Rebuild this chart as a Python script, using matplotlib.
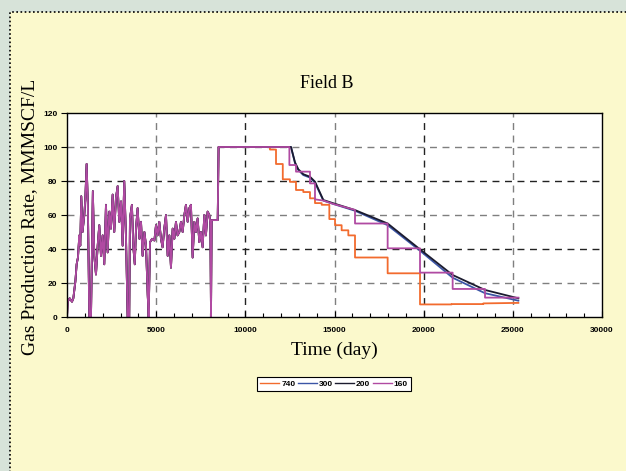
import matplotlib.pyplot as plt
from matplotlib.patches import Rectangle
from matplotlib.ticker import MultipleLocator

# early production history, shared by every case
hist_days = [0, 40, 150, 280, 355, 470, 540, 615, 690, 745, 800, 870, 970, 1025, 1100,
             1170, 1250, 1345, 1450, 1530, 1625, 1720, 1810, 1905, 2000, 2090, 2185,
             2280, 2370, 2465, 2560, 2650, 2745, 2840, 2930, 3030, 3120, 3210, 3310,
             3400, 3490, 3530, 3640, 3720, 3800, 3870, 3960, 4060, 4150, 4240, 4340,
             4430, 4525, 4580, 4655, 4770, 4900, 4990, 5080, 5175, 5270, 5360, 5455,
             5550, 5645, 5740, 5830, 5925, 6020, 6110, 6200, 6300, 6390, 6485, 6580,
             6670, 6765, 6860, 6950, 7045, 7140, 7230, 7325, 7420, 7510, 7605, 7700,
             7790, 7885, 7980, 8040, 8075, 8110, 8450]
hist_rate = [0, 9, 11, 9, 11, 21, 31, 35, 48, 42, 71, 50, 60, 69, 90,
             66, 0, 0, 74, 36, 25, 42, 54, 36, 48, 31, 66,
             38, 62, 52, 72, 50, 70, 77, 56, 68, 42, 80, 46,
             0, 0, 58, 66, 41, 31, 52, 64, 46, 56, 36, 50,
             42, 13, 0, 44, 46, 45, 54, 48, 56, 46, 41, 52,
             60, 36, 48, 29, 52, 46, 56, 48, 50, 56, 50, 60,
             66, 56, 64, 66, 35, 56, 50, 58, 44, 50, 41, 60,
             48, 62, 60, 55, 0, 57, 57]

# forecast part per case
d740 = [8500, 11380, 11380, 11720, 11720, 12100, 12100, 12500, 12500, 12840, 12840,
        13250, 13250, 13625, 13625, 13906, 13906, 14280, 14280, 14710, 14710, 15030,
        15030, 15400, 15400, 15775, 15775, 16150, 16150, 17980, 17980, 19795, 19795,
        21570, 21570, 23345, 23345, 25310]
r740 = [100, 100, 98.5, 98.5, 90, 90, 81, 81, 79.5, 79.5, 74.7,
        74.7, 73.5, 73.5, 69.8, 69.8, 67, 67, 66, 66, 57.6, 57.6,
        54, 54, 51, 51, 48, 48, 35, 35, 25.7, 25.7, 7.4,
        7.4, 7.6, 7.6, 8, 8.3]
d300 = [8500, 12560, 12785, 12970, 13250, 13625, 13906, 14375, 14935, 16150, 17980,
        19795, 21625, 23440, 25310]
r300 = [100, 100, 90.5, 86.5, 83.5, 82, 79, 68.5, 66.5, 62.5, 54, 39, 23.1, 14, 9.6]
d200 = [8500, 12560, 12785, 12970, 13250, 13625, 13906, 14375, 14935, 16150, 17980,
        19795, 21625, 23440, 25310]
r200 = [100, 100, 91, 86.9, 84, 82.5, 79.6, 68.8, 66.9, 62.9, 55, 39.8, 24.7, 15.9, 11]
d160 = [8500, 12470, 12470, 12840, 12840, 13625, 13625, 13906, 13906, 14375, 14935,
        16150, 16150, 17980, 17980, 19795, 19795, 21625, 21625, 23440, 23440, 25310]
r160 = [100, 100, 89.4, 89.4, 85.5, 85.5, 78.6, 78.6, 69.2, 68.5, 66.5,
        63, 55, 55, 40.4, 40.4, 26.1, 26.1, 16.5, 16.5, 11.4, 11.4]

cases = ['740', '300', '200', '160']
colors = ['#f26b2e', '#3b55a6', '#1b1b2f', '#b04aa2']
fc_days = [d740, d300, d200, d160]
fc_rate = [r740, r300, r200, r160]

fig = plt.figure(figsize=(6.26, 4.71), dpi=100)
fig.patch.set_facecolor('#d7e3d9')
fig.patches.append(Rectangle((10 / 626, -0.1), 1.2, 1 - 12 / 471 + 0.1,
                             transform=fig.transFigure, facecolor='#fbf9cc',
                             edgecolor='black', linestyle=(0, (1, 1.5)), linewidth=1.2,
                             zorder=-10))

ax = fig.add_axes([67 / 626, 1 - 317 / 471, 535 / 626, 204 / 471])
ax.set_facecolor('white')

for name, c, d, r in zip(cases, colors, fc_days, fc_rate):
    ax.plot(hist_days + d, hist_rate + r, color=c, lw=1.3, label=name)

ax.set_xlim(0, 30000)
ax.set_ylim(0, 120)
ax.xaxis.set_major_locator(MultipleLocator(5000))
ax.xaxis.set_minor_locator(MultipleLocator(1000))
ax.yaxis.set_major_locator(MultipleLocator(20))
ax.tick_params(axis='x', which='major', direction='in', length=4, width=0.8, pad=7)
ax.tick_params(axis='x', which='minor', direction='in', length=3, width=0.8)
ax.tick_params(axis='y', which='major', direction='out', length=4, width=0.8, pad=3)
for lab in ax.get_xticklabels() + ax.get_yticklabels():
    lab.set_fontfamily('Liberation Sans')
    lab.set_fontweight('bold')
    lab.set_fontsize(6)

# dashed grid, alternating grey and black
for i, x in enumerate(range(5000, 30000, 5000)):
    ax.axvline(x, color='#7f7f7f' if i % 2 == 0 else '#222222', ls=(0, (5, 4)), lw=1, zorder=0)
for i, y in enumerate(range(100, 0, -20)):
    ax.axhline(y, color='#7f7f7f' if i % 2 == 0 else '#222222', ls=(0, (5, 4)), lw=1, zorder=0)

for s in ax.spines.values():
    s.set_linewidth(1)

serif = 'Liberation Serif'
fig.text(327 / 626, 1 - 84 / 471, 'Field B', ha='center', va='center', family=serif, fontsize=13)
ax.set_xlabel('Time (day)', family=serif, fontsize=14, labelpad=6)
fig.text(30 / 626, 1 - 217 / 471, 'Gas Production Rate, MMMSCF/L', rotation=90,
         ha='center', va='center', family=serif, fontsize=14)

leg = fig.legend(loc='center', bbox_to_anchor=(334 / 626, 1 - 384 / 471), ncol=4,
                 prop={'family': 'Liberation Sans', 'weight': 'bold', 'size': 6},
                 handlelength=2.3, handletextpad=0.2, columnspacing=0.3,
                 borderpad=0.4, fancybox=False, framealpha=1)
leg.get_frame().set_edgecolor('black')
leg.get_frame().set_linewidth(0.8)
for line in leg.get_lines():
    line.set_linewidth(1)

fig.savefig('out.png', dpi=100, facecolor=fig.get_facecolor())
